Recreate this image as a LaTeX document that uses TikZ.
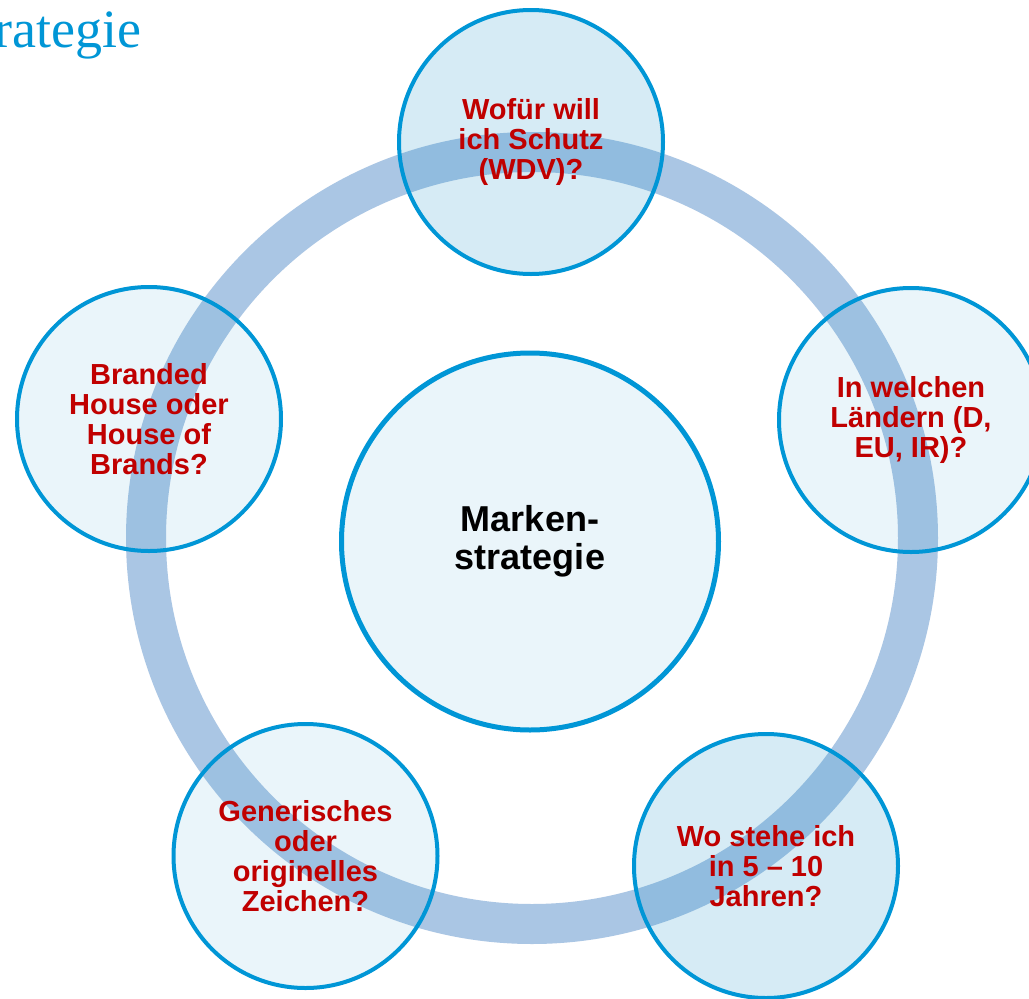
\documentclass[tikz,border=0pt]{standalone}
\usepackage{fontspec}
\setmainfont{Liberation Sans}
\newfontfamily\titelfont{Liberation Serif}
\definecolor{MarkBlue}{RGB}{0,150,214}
\definecolor{ShadeBlue}{RGB}{39,149,202}
\definecolor{RingBlue}{RGB}{170,198,228}
\definecolor{FrageRot}{RGB}{192,0,0}
\tikzset{
  band/.style={draw=RingBlue,line width=40pt},
  frage/.style={circle,draw=MarkBlue,line width=4pt,fill=ShadeBlue,fill opacity=0.093,
    text opacity=1,minimum size=264pt,inner sep=0pt,align=center,text=FrageRot,
    font=\fontsize{29}{30}\selectfont\bfseries},
  fragedunkel/.style={frage,fill opacity=0.19},
  kern/.style={frage,line width=5pt,minimum size=377pt,text=black,
    font=\fontsize{36}{38}\selectfont\bfseries},
}

\begin{document}
\begin{tikzpicture}[x=1pt,y=-1pt]
\useasboundingbox[fill=white] (0,0) rectangle (1029,999);
\node[anchor=base west,inner sep=0pt,text=MarkBlue,font=\titelfont\fontsize{54}{54}\selectfont] (titel) at (-6,47) {rategie};
\coordinate (mitte) at (532,538);
\draw[band] (mitte) circle[radius=386];
\node[kern] (marke) at (530,541.5) {Marken-\\strategie};
\node[fragedunkel] (wofuer) at (531,142) {Wofür will\\ich Schutz\\(WDV)?};
\node[frage] (laender) at (911,420) {In welchen\\Ländern (D,\\EU, IR)?};
\node[fragedunkel] (zukunft) at (766,866) {Wo stehe ich\\in 5 – 10\\Jahren?};
\node[frage] (zeichen) at (305.5,856) {Generisches\\oder\\originelles\\Zeichen?};
\node[frage] (house) at (149,419) {Branded\\House oder\\House of\\Brands?};
\end{tikzpicture}
\end{document}
